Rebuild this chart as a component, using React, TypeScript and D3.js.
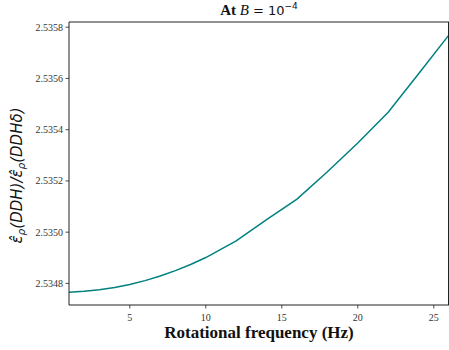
import React from "react";
import * as d3 from "d3";

const freqs = [1, 2, 3, 4, 5, 6, 7, 8, 9, 10, 12, 14, 16, 18, 20, 22, 24, 26];
const ratios = [
  2.534766, 2.534769, 2.534775, 2.534784, 2.534796, 2.534811, 2.534829, 2.53485,
  2.534874, 2.534901, 2.534966, 2.535049, 2.535129, 2.535236, 2.535348, 2.535468,
  2.535618, 2.53577,
];
const xTicks = [5, 10, 15, 20, 25];
const yTicks = [2.5348, 2.535, 2.5352, 2.5354, 2.5356, 2.5358];

const W = 449;
const H = 350;
const M = { left: 69, right: 449, top: 22, bottom: 305 };

export default function App() {
  const x = d3.scaleLinear().domain([1, 26]).range([M.left, M.right]);
  const yMin = d3.min(ratios) as number;
  const yMax = d3.max(ratios) as number;
  const pad = (yMax - yMin) * 0.05;
  const y = d3.scaleLinear().domain([yMin - pad, yMax + pad]).range([M.bottom, M.top]);
  const line = d3
    .line<number>()
    .x((_, i) => x(freqs[i]))
    .y((d) => y(d));
  const serif = "'Liberation Serif', 'Times New Roman', serif";
  const sans = "'DejaVu Sans', sans-serif";
  return (
    <svg
      width={W}
      height={H}
      style={{ position: "absolute", left: 0, top: 0, background: "#fff" }}
    >
      <defs>
        <clipPath id="clip">
          <rect x={M.left} y={M.top} width={M.right - M.left} height={M.bottom - M.top} />
        </clipPath>
      </defs>
      <path
        d={line(ratios) || ""}
        fill="none"
        stroke="#008080"
        strokeWidth={1.5}
        clipPath="url(#clip)"
      />
      {/* spines */}
      <line x1={M.left} x2={M.left} y1={M.top} y2={M.bottom} stroke="#222" strokeWidth={1} />
      <line x1={M.left} x2={M.right} y1={M.bottom} y2={M.bottom} stroke="#222" strokeWidth={1} />
      <line x1={M.left} x2={M.right} y1={M.top} y2={M.top} stroke="#222" strokeWidth={1} />
      <line x1={M.right - 0.5} x2={M.right - 0.5} y1={M.top} y2={M.bottom} stroke="#222" strokeWidth={1} />
      {xTicks.map((t) => (
        <g key={t}>
          <line x1={x(t)} x2={x(t)} y1={M.bottom} y2={M.bottom + 3.5} stroke="#222" strokeWidth={0.8} />
          <text
            x={x(t)}
            y={M.bottom + 16}
            textAnchor="middle"
            fontFamily={serif}
            fontSize={10}
            fill="#333"
          >
            {t}
          </text>
        </g>
      ))}
      {yTicks.map((t) => (
        <g key={t}>
          <line x1={M.left - 3.5} x2={M.left} y1={y(t)} y2={y(t)} stroke="#222" strokeWidth={0.8} />
          <text
            x={M.left - 6}
            y={y(t)}
            dy="0.34em"
            textAnchor="end"
            fontFamily={serif}
            fontSize={10}
            fill="#333"
          >
            {t.toFixed(4)}
          </text>
        </g>
      ))}
      {/* title */}
      <text x={(M.left + M.right) / 2} y={15} textAnchor="middle" fontSize={15} fill="#111">
        <tspan fontFamily={serif} fontWeight="bold">At </tspan>
        <tspan fontFamily={serif} fontStyle="italic">B</tspan>
        <tspan fontFamily={sans} fontSize={13}> = 10</tspan>
        <tspan fontFamily={sans} fontSize={9} dy={-6}>−4</tspan>
      </text>
      {/* x label */}
      <text
        x={(M.left + M.right) / 2}
        y={338}
        textAnchor="middle"
        fontFamily={serif}
        fontWeight="bold"
        fontSize={17}
        fill="#111"
      >
        Rotational frequency (Hz)
      </text>
      {/* y label */}
      <text
        transform={`translate(22, ${(M.top + M.bottom) / 2 + 12}) rotate(-90)`}
        textAnchor="middle"
        fontFamily={sans}
        fontStyle="italic"
        fontSize={15}
        fill="#111"
      >
        <tspan>ε̂</tspan>
        <tspan fontSize={10.5} dy={3}>ρ</tspan>
        <tspan dy={-3}>(DDH)/ε̂</tspan>
        <tspan fontSize={10.5} dy={3}>ρ</tspan>
        <tspan dy={-3}>(DDHδ)</tspan>
      </text>
    </svg>
  );
}
